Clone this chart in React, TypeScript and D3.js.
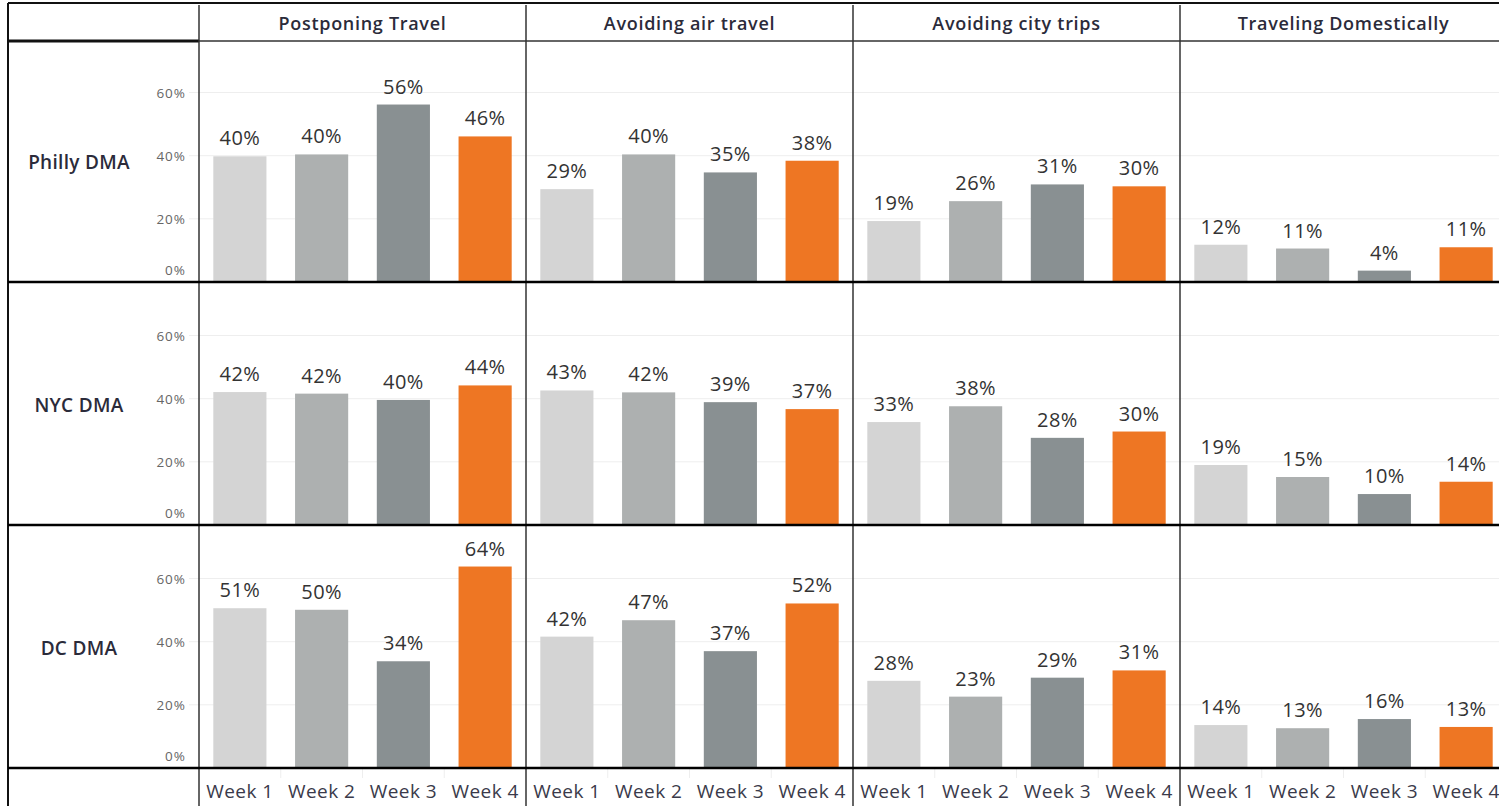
import React from 'react';
import * as d3 from 'd3';

// Categories
const weeks = ['Week 1', 'Week 2', 'Week 3', 'Week 4'];
const measures = ['Postponing Travel', 'Avoiding air travel', 'Avoiding city trips', 'Traveling Domestically'];
const markets = ['Philly DMA', 'NYC DMA', 'DC DMA'];
const yTicks = [0, 20, 40, 60];

// Share of respondents (%), one array per market, rows = measures, cols = weeks
const phillyValues = [
  [39.8, 40.4, 56.2, 46.1],
  [29.4, 40.4, 34.7, 38.4],
  [19.3, 25.6, 30.9, 30.3],
  [11.8, 10.6, 3.6, 11.0],
];
const nycValues = [
  [42.1, 41.6, 39.6, 44.2],
  [42.6, 42.0, 38.9, 36.7],
  [32.6, 37.6, 27.6, 29.6],
  [19.0, 15.2, 9.8, 13.7],
];
const dcValues = [
  [50.6, 50.1, 33.8, 63.8],
  [41.6, 46.8, 37.0, 52.1],
  [27.6, 22.6, 28.6, 30.9],
  [13.6, 12.6, 15.5, 13.0],
];
const marketValues = [phillyValues, nycValues, dcValues];

const weekColors = ['#d4d4d4', '#adb0b0', '#899092', '#ee7623'];

const W = 1499;
const H = 806;
const FONT = '"Open Sans", "Noto Sans", sans-serif';

export default function App() {
  const leftX = 8;
  const topY = 3;
  const headerBottom = 41;
  const colX0 = 199;
  const colW = 327;
  const rowStep = 243;
  const firstBaseline = 282;
  const plotH = 240;

  const colX = d3.scaleBand<string>().domain(measures).range([colX0, colX0 + colW * 4]);
  const baselines = markets.map((_, i) => firstBaseline + i * rowStep);
  const lastBaseline = baselines[baselines.length - 1];

  return (
    <div style={{ position: 'fixed', left: 0, top: 0, width: W, height: H, background: '#fff' }}>
      <svg width={W} height={H} style={{ display: 'block', fontFamily: FONT }}>
        {/* column headers */}
        {measures.map(m => (
          <text
            key={m}
            x={colX(m)! + colW / 2}
            y={30}
            textAnchor="middle"
            fontSize={18}
            fontWeight={600}
            letterSpacing={0.7}
            fill="#2b2b3a"
          >
            {m}
          </text>
        ))}

        {markets.map((mk, ri) => {
          const base = baselines[ri];
          const y = d3.scaleLinear().domain([0, 76]).range([base, base - plotH]);
          return (
            <g key={mk}>
              {/* row label */}
              <text
                x={79}
                y={(base + base - plotH) / 2 + 7}
                textAnchor="middle"
                fontSize={19}
                fontWeight={600}
                letterSpacing={0.3}
                fill="#2b2b3a"
              >
                {mk}
              </text>
              {/* gridlines and y ticks */}
              {yTicks.filter(t => t > 0).map(t => (
                <line key={t} x1={189} x2={W} y1={y(t)} y2={y(t)} stroke="#eeeeee" strokeWidth={1} />
              ))}
              {yTicks.map(t => (
                <text
                  key={'t' + t}
                  x={186}
                  y={t === 0 ? y(t) - 7 : y(t) + 5}
                  textAnchor="end"
                  fontSize={13.5}
                  letterSpacing={1}
                  fill="#666"
                >
                  {t}%
                </text>
              ))}
              {/* bars */}
              {measures.map((m, ci) => {
                const x = d3
                  .scaleBand<string>()
                  .domain(weeks)
                  .range([colX(m)!, colX(m)! + colW])
                  .paddingInner(0.35)
                  .paddingOuter(0.175);
                return (
                  <g key={m}>
                    {weeks.map((wk, wi) => {
                      const v = marketValues[ri][ci][wi];
                      return (
                        <g key={wk}>
                          <rect
                            x={x(wk)}
                            y={y(v)}
                            width={x.bandwidth()}
                            height={y(0) - y(v)}
                            fill={weekColors[wi]}
                          />
                          <text
                            x={x(wk)! + x.bandwidth() / 2}
                            y={y(v) - 11}
                            textAnchor="middle"
                            fontSize={20}
                            letterSpacing={0.4}
                            fill="#333"
                          >
                            {Math.round(v)}%
                          </text>
                        </g>
                      );
                    })}
                  </g>
                );
              })}
            </g>
          );
        })}

        {/* bottom week axis */}
        {measures.map(m => {
          const x = d3.scaleBand<string>().domain(weeks).range([colX(m)!, colX(m)! + colW]);
          return (
            <g key={'ax' + m}>
              {weeks.map((wk, wi) => (
                <g key={wk}>
                  {wi > 0 && (
                    <line x1={x(wk)} x2={x(wk)} y1={lastBaseline} y2={lastBaseline + 10} stroke="#eeeeee" />
                  )}
                  <text
                    x={x(wk)! + x.bandwidth() / 2}
                    y={lastBaseline + 30}
                    textAnchor="middle"
                    fontSize={19}
                    letterSpacing={0.4}
                    fill="#3a3a4a"
                  >
                    {wk}
                  </text>
                </g>
              ))}
            </g>
          );
        })}

        {/* frame lines */}
        <line x1={leftX} x2={W} y1={topY} y2={topY} stroke="#111" strokeWidth={2} />
        <line x1={leftX} x2={leftX} y1={topY} y2={H} stroke="#111" strokeWidth={2} />
        <line x1={leftX} x2={colX0} y1={headerBottom} y2={headerBottom} stroke="#111" strokeWidth={3} />
        <line x1={colX0} x2={W} y1={headerBottom} y2={headerBottom} stroke="#333" strokeWidth={1.5} />
        {measures.map(m => (
          <line key={'v' + m} x1={colX(m)} x2={colX(m)} y1={topY + 2} y2={H} stroke="#333" strokeWidth={1.5} />
        ))}
        {baselines.map(b => (
          <line key={'b' + b} x1={leftX} x2={W} y1={b} y2={b} stroke="#000" strokeWidth={2.5} />
        ))}
      </svg>
    </div>
  );
}
